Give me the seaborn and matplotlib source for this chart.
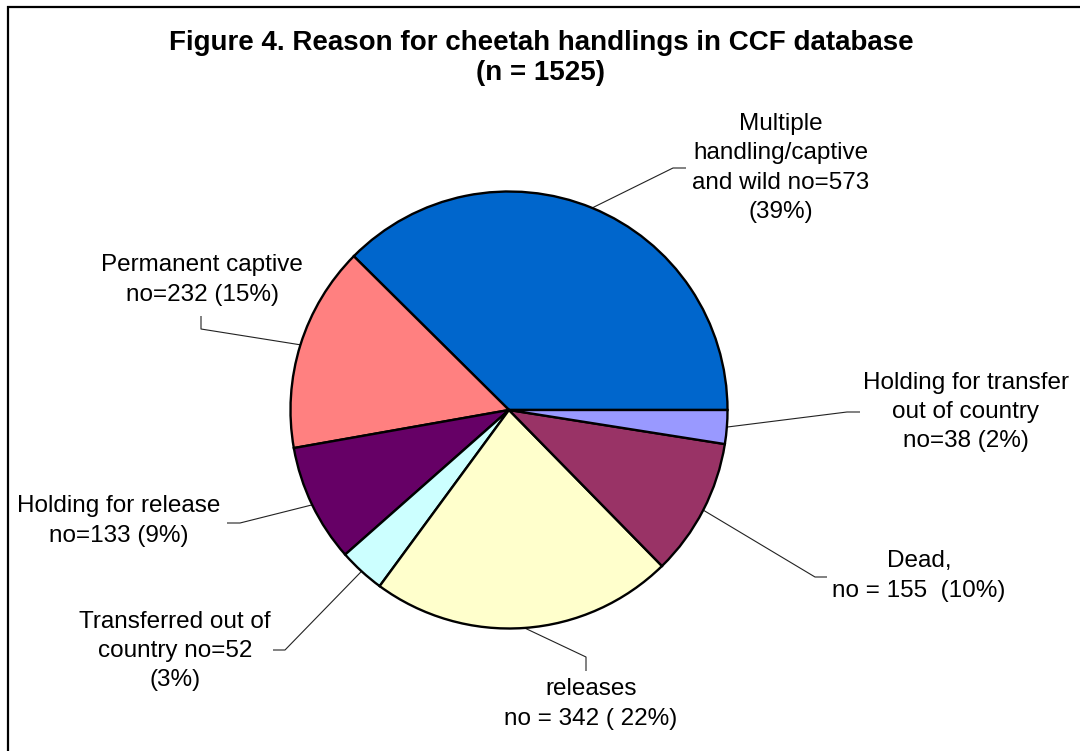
import numpy as np
import matplotlib
matplotlib.use("Agg")
import matplotlib.pyplot as plt
import seaborn as sns

# ---- data ----
categories = ["Multiple handling/captive and wild", "Permanent captive",
              "Holding for release", "Transferred out of country",
              "releases", "Dead", "Holding for transfer out of country"]
counts = [573, 232, 133, 52, 342, 155, 38]
label_texts = [
    "Multiple\nhandling/captive\nand wild no=573\n(39%)",
    "Permanent captive\nno=232 (15%)",
    "Holding for release\nno=133 (9%)",
    "Transferred out of\ncountry no=52\n(3%)",
    "releases\nno = 342 ( 22%)",
    "Dead,\nno = 155  (10%)",
    "Holding for transfer\nout of country\nno=38 (2%)",
]
title_text = "Figure 4. Reason for cheetah handlings in CCF database\n(n = 1525)"

# ---- style ----
colors = ["#0066CC", "#FF8080", "#660066", "#CCFFFF", "#FFFFCC", "#993366", "#9999FF"]
sns.set_theme(style="white")
plt.rcParams["font.family"] = ["Liberation Sans", "DejaVu Sans"]

W, H = 1080, 751
fig = plt.figure(figsize=(W / 100, H / 100), dpi=100)
ax = fig.add_axes([0, 0, 1, 1])

def py(y):
    return H - y

cx, cy, R = 509, py(410), 218.5
wedges, _ = ax.pie(counts, colors=sns.color_palette(colors), startangle=0,
                   counterclock=True, center=(cx, cy), radius=R,
                   wedgeprops=dict(edgecolor="black", linewidth=1.7))
ax.set_xlim(0, W)
ax.set_ylim(0, H)
ax.set_aspect("equal")
ax.axis("off")

# leader layout: elbow, end, text centre (pixel coords, y from top)
layout = [
    ((673, 168), (686, 168), (781, 168)),
    ((201, 329), (201, 316), (202, 280)),
    ((240, 523), (227, 523), (119, 521)),
    ((285, 650), (273, 650), (175, 651)),
    ((586, 657), (586, 671), (591, 704)),
    ((815, 577), (827, 577), (919, 576)),
    ((847, 412), (860, 412), (966, 412)),
]

for w, txt, (elb, end, tc) in zip(wedges, label_texts, layout):
    mid = np.deg2rad((w.theta1 + w.theta2) / 2)
    sx, sy = cx + R * np.cos(mid), cy + R * np.sin(mid)
    ax.plot([sx, elb[0], end[0]], [sy, py(elb[1]), py(end[1])],
            color="#222222", lw=0.8, solid_capstyle="butt", zorder=0.5)
    ax.text(tc[0], py(tc[1]), txt, ha="center", va="center",
            fontsize=17.5, color="black", linespacing=1.42)

ax.text(541, py(58), title_text, ha="center", va="center",
        fontsize=20, fontweight="bold", color="black", linespacing=1.15)

# outer frame (top and left edges)
ax.plot([7.5, 7.5], [py(6), 0], color="black", lw=1.6, clip_on=False, solid_capstyle="butt")
ax.plot([7, W], [py(6.5), py(6.5)], color="black", lw=1.6, clip_on=False, solid_capstyle="butt")

fig.savefig("out.png", dpi=100, facecolor="white")
